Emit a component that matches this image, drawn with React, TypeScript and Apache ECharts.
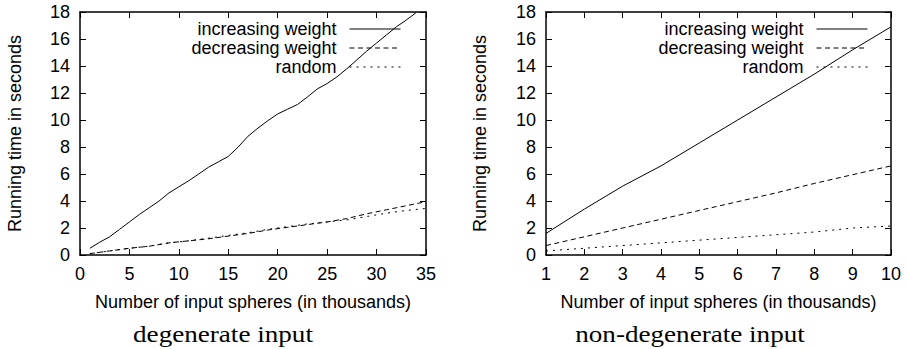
import React, { useEffect, useRef } from 'react';
import * as echarts from 'echarts';

const SERIES_NAMES = ['increasing weight', 'decreasing weight', 'random'];
const SUBTITLES = ['degenerate input', 'non-degenerate input'];
const X_NAME = 'Number of input spheres (in thousands)';
const Y_NAME = 'Running time in seconds';

// degenerate input (left chart)
const degIncX = [1, 2, 3, 4, 5, 6, 7, 8, 9, 10, 11, 12, 13, 14, 15, 16, 17, 18, 19, 20, 21, 22, 23, 24, 25, 26, 27, 28, 29, 30, 31, 32, 33, 34];
const degIncreasing = [0.5, 0.95, 1.35, 1.9, 2.45, 3.0, 3.5, 4.0, 4.6, 5.05, 5.5, 6.0, 6.5, 6.9, 7.3, 8.0, 8.8, 9.4, 9.95, 10.45, 10.8, 11.15, 11.7, 12.3, 12.7, 13.2, 13.8, 14.45, 15.1, 15.7, 16.3, 16.9, 17.4, 17.95];
const degOtherX = [1, 3, 5, 7, 9, 11, 13, 15, 17, 19, 21, 23, 25, 27, 29, 31, 33, 35];
const degDecreasing = [0.1, 0.3, 0.5, 0.65, 0.9, 1.05, 1.2, 1.4, 1.6, 1.85, 2.05, 2.25, 2.45, 2.7, 3.05, 3.35, 3.65, 3.95];
const degRandom = [0.1, 0.3, 0.5, 0.65, 0.9, 1.05, 1.25, 1.45, 1.65, 1.9, 2.1, 2.3, 2.45, 2.6, 2.85, 3.1, 3.3, 3.45];

// non-degenerate input (right chart)
const nondegX = [1, 2, 3, 4, 5, 6, 7, 8, 9, 10];
const nondegIncreasing = [1.6, 3.4, 5.1, 6.6, 8.3, 10.0, 11.7, 13.4, 15.2, 16.9];
const nondegDecreasing = [0.7, 1.35, 2.0, 2.65, 3.3, 3.95, 4.6, 5.3, 5.95, 6.6];
const nondegRandom = [0.3, 0.5, 0.7, 0.9, 1.1, 1.3, 1.5, 1.7, 2.0, 2.15];

// axis ranges
const degXRange = { min: 0, max: 35, interval: 5 };
const nondegXRange = { min: 1, max: 10, interval: 1 };
const yRange = { min: 0, max: 18, interval: 2 };

const SANS = '"Liberation Sans", Arial, Helvetica, sans-serif';
const SERIF = '"Liberation Serif", "Times New Roman", serif';

const zip = (xs: number[], ys: number[]) => xs.map((x, i) => [x, ys[i]]);

const LINE_TYPES: any[] = ['solid', [5, 3.5], [2, 5]];

function axisBase(extra: any) {
  return {
    type: 'value',
    axisLine: { show: true, onZero: false, lineStyle: { color: '#000', width: 1.5 } },
    axisTick: { show: true, inside: true, length: 6, lineStyle: { color: '#000', width: 1 } },
    splitLine: { show: false },
    axisLabel: { color: '#000', fontSize: 18, fontFamily: SANS, margin: 10 },
    nameTextStyle: { color: '#000', fontSize: 18, fontFamily: SANS },
    ...extra,
  };
}

export default function App() {
  const ref = useRef<HTMLDivElement>(null);
  useEffect(() => {
    if (!ref.current) return;
    const chart = echarts.init(ref.current, undefined, { renderer: 'svg' });

    const mkSeries = (name: string, data: number[][], idx: number, typeIdx: number) => ({
      name,
      type: 'line',
      xAxisIndex: idx,
      yAxisIndex: idx,
      data,
      symbol: 'none',
      showSymbol: false,
      silent: true,
      clip: true,
      lineStyle: { color: '#000', width: 1, type: LINE_TYPES[typeIdx] },
      itemStyle: { color: '#000' },
      emphasis: { disabled: true },
    });

    const legendBase = (right: number) => ({
      orient: 'vertical',
      align: 'right',
      right,
      top: 20,
      padding: 0,
      itemWidth: 51,
      itemHeight: 14,
      itemGap: 1,
      selectedMode: false,
      data: SERIES_NAMES,
      itemStyle: { opacity: 0, borderWidth: 0 },
      lineStyle: { width: 1 },
      textStyle: { color: '#000', fontSize: 18, fontFamily: SANS, padding: [0, 8, 0, 0] },
    });

    const option: any = {
      animation: false,
      backgroundColor: '#fff',
      grid: [
        { left: 80, top: 12, width: 346, height: 243 },
        { left: 546, top: 12, width: 345, height: 243 },
      ],
      xAxis: [
        axisBase({ gridIndex: 0, position: 'bottom', ...degXRange, name: X_NAME, nameLocation: 'middle', nameGap: 38 }),
        axisBase({ gridIndex: 0, position: 'top', ...degXRange, axisLabel: { show: false } }),
        axisBase({ gridIndex: 1, position: 'bottom', ...nondegXRange, name: X_NAME, nameLocation: 'middle', nameGap: 38 }),
        axisBase({ gridIndex: 1, position: 'top', ...nondegXRange, axisLabel: { show: false } }),
      ],
      yAxis: [
        axisBase({ gridIndex: 0, position: 'left', ...yRange, name: Y_NAME, nameLocation: 'middle', nameGap: 56, nameRotate: 90 }),
        axisBase({ gridIndex: 0, position: 'right', ...yRange, axisLabel: { show: false } }),
        axisBase({ gridIndex: 1, position: 'left', ...yRange, name: Y_NAME, nameLocation: 'middle', nameGap: 57, nameRotate: 90 }),
        axisBase({ gridIndex: 1, position: 'right', ...yRange, axisLabel: { show: false } }),
      ],
      legend: [legendBase(508), legendBase(41)],
      series: [
        mkSeries(SERIES_NAMES[0], zip(degIncX, degIncreasing), 0, 0),
        mkSeries(SERIES_NAMES[1], zip(degOtherX, degDecreasing), 0, 1),
        mkSeries(SERIES_NAMES[2], zip(degOtherX, degRandom), 0, 2),
        mkSeries(SERIES_NAMES[0], zip(nondegX, nondegIncreasing), 2, 0),
        mkSeries(SERIES_NAMES[1], zip(nondegX, nondegDecreasing), 2, 1),
        mkSeries(SERIES_NAMES[2], zip(nondegX, nondegRandom), 2, 2),
      ],
      graphic: [
        {
          type: 'text', x: 223, y: 334, scaleX: 1.13, silent: true,
          style: { text: SUBTITLES[0], fill: '#000', font: `24px ${SERIF}`, align: 'center', verticalAlign: 'middle' },
        },
        {
          type: 'text', x: 690, y: 334, scaleX: 1.13, silent: true,
          style: { text: SUBTITLES[1], fill: '#000', font: `24px ${SERIF}`, align: 'center', verticalAlign: 'middle' },
        },
      ],
    };
    chart.setOption(option);
    return () => chart.dispose();
  }, []);

  return (
    <div
      ref={ref}
      style={{ position: 'absolute', left: 0, top: 0, width: 909, height: 349, background: '#fff' }}
    />
  );
}
